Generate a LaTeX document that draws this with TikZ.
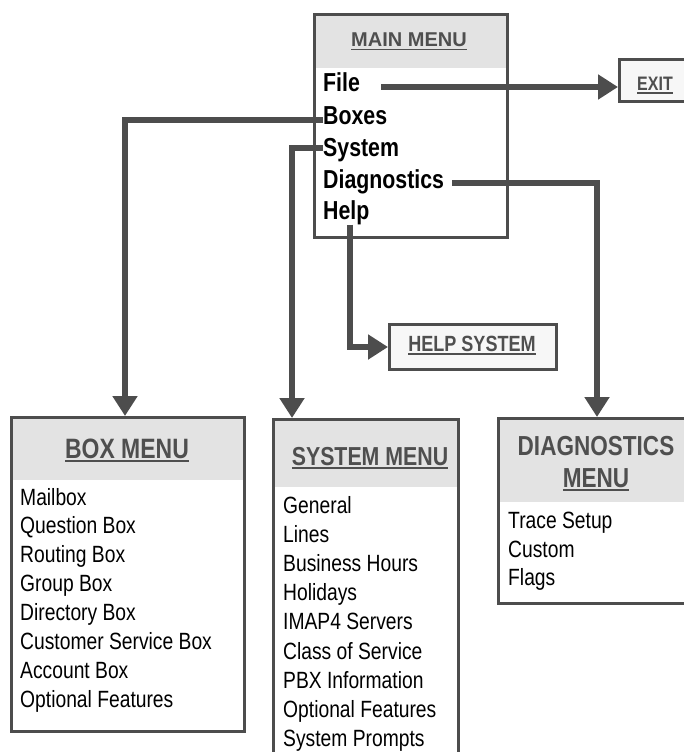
\documentclass[tikz,border=0pt]{standalone}
\usepackage{fontspec}
\setmainfont[FakeStretch=0.82]{Liberation Sans}
\newfontfamily\widefont{Liberation Sans}
\usetikzlibrary{arrows.meta}
\definecolor{ln}{HTML}{4D4D4D}
\definecolor{hdr}{HTML}{E3E3E3}
\definecolor{ttlc}{HTML}{4F4F4F}
\definecolor{lite}{HTML}{F7F7F7}
\newcommand\ulx[1]{\setbox0\hbox{#1}\rlap{\rule[-3.5pt]{\wd0}{1.8pt}}\box0}
\begin{document}
\begin{tikzpicture}[x=1pt,y=-1pt,
 frame/.style={draw=ln,line width=3pt,inner sep=0pt,anchor=north west},
 conn/.style={draw=ln,line width=6pt},
 arr/.style={conn,-{Triangle[length=20pt,width=24pt]}},
 item/.style={anchor=base west,inner sep=0pt,font=\fontsize{23.5}{23.5}\selectfont},
 mitem/.style={anchor=base west,inner sep=0pt,font=\fontsize{26}{26}\selectfont\bfseries},
 ttl/.style={anchor=base,inner sep=0pt,text=ttlc,font=\fontsize{28}{28}\selectfont\bfseries},
 small/.style={anchor=base,inner sep=0pt,text=ttlc,font=\fontsize{22}{22}\selectfont\bfseries},
]
\useasboundingbox (0,0) rectangle (684,752);
\clip (0,0) rectangle (684,752);

% ---------- main menu
\fill[hdr] (313,13) rectangle (506,68);
\node[frame,minimum width=193pt,minimum height=223pt] (mainbox) at (313,13) {};
\node[anchor=base,inner sep=0pt,text=ttlc,font=\widefont\fontsize{20}{20}\selectfont\bfseries] (maint) at (409,47) {\ulx{MAIN MENU}};
\node[mitem] (file) at (323,92) {File};
\node[mitem] (boxes) at (323,124) {Boxes};
\node[mitem] (system) at (323,156) {System};
\node[mitem] (diag) at (323,188) {Diagnostics};
\node[mitem] (help) at (323,219) {Help};

% ---------- exit
\node[frame,fill=lite,minimum width=90pt,minimum height=42pt] (exitbox) at (618,58) {};
\node[small,font=\fontsize{19.5}{19.5}\selectfont\bfseries] (exitt) at (655,90) {\ulx{EXIT}};

% ---------- help system
\node[frame,fill=lite,minimum width=167pt,minimum height=45pt] (helpbox) at (388,323) {};
\node[small] (helpt) at (472,351) {\ulx{HELP SYSTEM}};

% ---------- box menu
\fill[hdr] (10,416) rectangle (243,480);
\node[frame,minimum width=233pt,minimum height=314pt] (boxmenu) at (10,416) {};
\node[ttl] (boxt) at (127,458) {\ulx{BOX MENU}};
\node[item] (b1) at (20,505) {Mailbox};
\node[item] (b2) at (20,533.9) {Question Box};
\node[item] (b3) at (20,562.8) {Routing Box};
\node[item] (b4) at (20,591.7) {Group Box};
\node[item] (b5) at (20,620.6) {Directory Box};
\node[item] (b6) at (20,649.5) {Customer Service Box};
\node[item] (b7) at (20,678.4) {Account Box};
\node[item] (b8) at (20,707.3) {Optional Features};

% ---------- system menu
\fill[hdr] (272,418) rectangle (457,487);
\node[frame,minimum width=185pt,minimum height=350pt] (sysmenu) at (272,418) {};
\node[ttl,font=\fontsize{26}{26}\selectfont\bfseries] (syst) at (370,465) {\ulx{SYSTEM MENU}};
\node[item] (s1) at (283,513) {General};
\node[item] (s2) at (283,542.2) {Lines};
\node[item] (s3) at (283,571.4) {Business Hours};
\node[item] (s4) at (283,600.6) {Holidays};
\node[item] (s5) at (283,629.8) {IMAP4 Servers};
\node[item] (s6) at (283,659) {Class of Service};
\node[item] (s7) at (283,688.2) {PBX Information};
\node[item] (s8) at (283,717.4) {Optional Features};
\node[item] (s9) at (283,746.6) {System Prompts};

% ---------- diagnostics menu
\fill[hdr] (497,417) rectangle (700,502);
\node[frame,minimum width=200pt,minimum height=185pt] (diagmenu) at (497,417) {};
\node[ttl,font=\fontsize{27.5}{27.5}\selectfont\bfseries] (diagt1) at (596,455) {DIAGNOSTICS};
\node[ttl,font=\fontsize{27.5}{27.5}\selectfont\bfseries] (diagt2) at (596,487) {\ulx{MENU}};
\node[item] (d1) at (508,528.5) {Trace Setup};
\node[item] (d2) at (508,557) {Custom};
\node[item] (d3) at (508,585.5) {Flags};

% ---------- connectors
\coordinate (cf) at (381,87);
\coordinate (cb) at (125,120);
\coordinate (cs) at (292,148);
\coordinate (cd) at (597,183);
\coordinate (ch) at (350,347);
\draw[arr] (cf) -- (exitbox.west |- cf);
\draw[arr] (boxes.west |- cb) -- (cb) -- (cb |- boxmenu.north);
\draw[arr] (system.west |- cs) -- (cs) -- (cs |- sysmenu.north);
\draw[arr] ([xshift=8pt]diag.east |- cd) -- (cd) -- (cd |- diagmenu.north);
\draw[arr] (ch |- help.south) -- (ch) -- (helpbox.west |- ch);
\end{tikzpicture}
\end{document}
